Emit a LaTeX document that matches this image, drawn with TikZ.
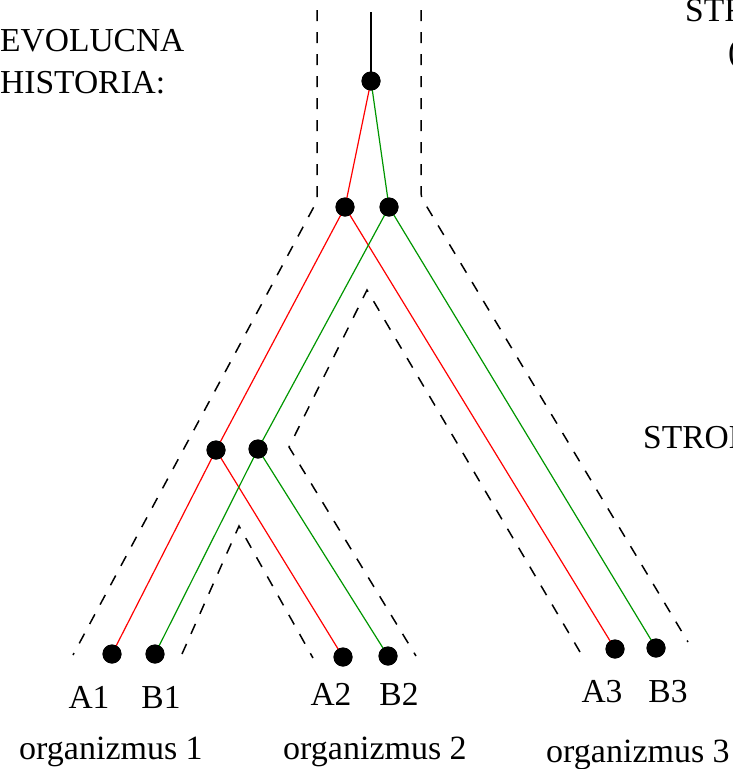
\documentclass[tikz,border=0pt]{standalone}
\usepackage{fontspec}
\setmainfont{Liberation Serif}
\definecolor{gred}{RGB}{255,0,0}
\definecolor{ggreen}{RGB}{0,150,0}
\begin{document}
\begin{tikzpicture}[x=1pt,y=-1pt,
  dot/.style={circle,fill=black,inner sep=0pt,minimum size=19pt},
  redline/.style={draw=gred,line width=1.2pt},
  greenline/.style={draw=ggreen,line width=1.2pt},
  tube/.style={draw=black,line width=1.5pt,dash pattern=on 11pt off 11pt},
  lbl/.style={font=\fontsize{33.5}{40}\selectfont,inner sep=0pt,anchor=base},
  olbl/.style={font=\fontsize{34}{40}\selectfont,inner sep=0pt,anchor=base}]
\useasboundingbox (0,0) rectangle (732,769);
\clip (0,0) rectangle (732,769);
% species tree tube
\draw[tube,rounded corners=4pt] (317,10) -- (317,201) -- (73,655);
\draw[tube,rounded corners=4pt] (421,10) -- (421,197) -- (688,642);
\draw[tube] (580,652) -- (367,290) -- (289,447) -- (416,656);
\draw[tube] (182,654) -- (239,526) -- (313,658);
% gene tree nodes
\coordinate (top) at (371,12);
\node[dot] (root) at (371,81) {};
\node[dot] (r1) at (345,207) {};
\node[dot] (g1) at (389,207) {};
\node[dot] (r2) at (216,450) {};
\node[dot] (g2) at (258,449) {};
\node[dot] (a1) at (112,654) {};
\node[dot] (b1) at (155,654) {};
\node[dot] (a2) at (343,657) {};
\node[dot] (b2) at (388,656) {};
\node[dot] (a3) at (615,649) {};
\node[dot] (b3) at (656,648) {};
\draw[line width=1.2pt] (top) -- (root.center);
\draw[redline] (root.center) -- (r1.center);
\draw[greenline] (root.center) -- (g1.center);
\draw[redline] (r1.center) -- (r2.center);
\draw[redline] (r1.center) -- (a3.center);
\draw[greenline] (g1.center) -- (g2.center);
\draw[greenline] (g1.center) -- (b3.center);
\draw[redline] (r2.center) -- (a1.center);
\draw[redline] (r2.center) -- (a2.center);
\draw[greenline] (g2.center) -- (b1.center);
\draw[greenline] (g2.center) -- (b2.center);
% redraw dots on top
\foreach \n in {root,r1,g1,r2,g2,a1,b1,a2,b2,a3,b3}{\fill (\n) circle (9.5pt);}
% labels
\node[lbl] (la1) at (89,708) {A1};
\node[lbl] (lb1) at (161,708) {B1};
\node[lbl] (la2) at (331,705) {A2};
\node[lbl] (lb2) at (399,705) {B2};
\node[lbl] (la3) at (602,702) {A3};
\node[lbl] (lb3) at (668,702) {B3};
\node[olbl] (o1) at (111,759) {organizmus 1};
\node[olbl] (o2) at (375,759) {organizmus 2};
\node[olbl] (o3) at (638,762) {organizmus 3};
\node[lbl,anchor=base west] (t1) at (0,51) {EVOLUCNA};
\node[lbl,anchor=base west] (t2) at (0,93) {HISTORIA:};
\node[lbl,anchor=base west] (t3) at (685,21) {STR};
\node[lbl,anchor=base west] (t4) at (728,62) {(};
\node[lbl,anchor=base west] (t5) at (643,448) {STROM};
\end{tikzpicture}
\end{document}
